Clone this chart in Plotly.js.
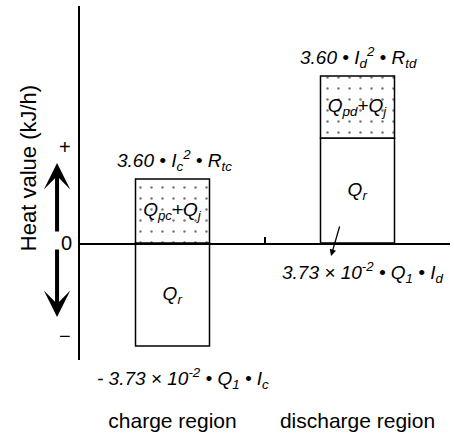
<!DOCTYPE html>
<html>
<head>
<meta charset="utf-8">
<script src="https://cdn.plot.ly/plotly-3.0.1.min.js"></script>
<style>
  html, body { margin: 0; padding: 0; background: #fff; }
  #chart { width: 454px; height: 438px; }
</style>
</head>
<body>
<div id="chart"></div>
<script>
// Heat balance of the battery in the charge and discharge regions (schematic units)
const regions = ['charge region', 'discharge region'];
const reactionHeat = [-10.3, 10.5];      // Q_r  (endothermic on charge, exothermic on discharge)
const jouleHeat = [6.4, 6.2];            // Q_p + Q_j
const reactionLabels = ['<i>Q<sub>r</sub></i>', '<i>Q<sub>r</sub></i>'];
const jouleLabels = ['<i>Q<sub>pc</sub>+Q<sub>j</sub></i>', '<i>Q<sub>pd</sub>+Q<sub>j</sub></i>'];
const jouleFormulas = [
  '<i>3.60 • I<sub>c</sub><sup>2</sup> • R<sub>tc</sub></i>',
  '<i>3.60 • I<sub>d</sub><sup>2</sup> • R<sub>td</sub></i>'
];
const reactionFormulas = [
  '<i>- 3.73 × 10<sup>-2</sup> • Q<sub>1</sub> • I<sub>c</sub></i>',
  '<i>3.73 × 10<sup>-2</sup> • Q<sub>1</sub> • I<sub>d</sub></i>'
];

const FONT = 'Liberation Sans, Arial, Helvetica, sans-serif';
const yMin = -11.7, yMax = 23.7;

const traces = [
  {
    type: 'bar', x: regions, y: reactionHeat, width: 0.4,
    text: reactionLabels, textposition: 'inside', insidetextanchor: 'middle',
    textfont: {family: FONT, size: 19, color: '#000'},
    marker: {color: '#fff', line: {color: '#000', width: 1.5}},
    hoverinfo: 'skip'
  },
  {
    type: 'bar', x: regions, y: jouleHeat, width: 0.4,
    text: jouleLabels, textposition: 'inside', insidetextanchor: 'middle',
    textfont: {family: FONT, size: 19, color: '#000'},
    marker: {
      color: '#fff',
      line: {color: '#000', width: 1.5},
      pattern: {shape: '.', fgcolor: '#777', bgcolor: '#fff', size: 11, solidity: 0.04}
    },
    hoverinfo: 'skip'
  }
];

const tops = regions.map((_, i) => Math.max(0, reactionHeat[i]) + jouleHeat[i]);
const bottoms = regions.map((_, i) => Math.min(0, reactionHeat[i]));

const txt = (size) => ({family: FONT, size: size, color: '#000'});

const annotations = [
  // formulas above the Joule-heat blocks
  {x: 0, y: tops[0], xref: 'x', yref: 'y', text: jouleFormulas[0], showarrow: false,
   yanchor: 'bottom', yshift: 3, xshift: 2, font: txt(19)},
  {x: 1, y: tops[1], xref: 'x', yref: 'y', text: jouleFormulas[1], showarrow: false,
   yanchor: 'bottom', yshift: 3, xshift: 1, font: txt(19)},
  // reaction-heat formulas
  {x: 0, y: bottoms[0], xref: 'x', yref: 'y', text: reactionFormulas[0], showarrow: false,
   yanchor: 'top', yshift: -17, xshift: 10, font: txt(19)},
  {x: 1, y: 0, xref: 'x', yref: 'y', text: reactionFormulas[1], showarrow: false,
   yanchor: 'top', yshift: -14, xshift: 5, font: txt(19)},
  // pointer from the discharge block to its formula
  {x: 0.857, y: -1.3, xref: 'x', yref: 'y', text: '', showarrow: true,
   ax: 9, ay: -31, arrowhead: 2, arrowsize: 1, arrowwidth: 1.3, arrowcolor: '#000', standoff: 0},
  // axis title
  {x: -0.1405, y: 0.542, xref: 'paper', yref: 'paper', text: 'Heat value (kJ/h)', textangle: -90,
   showarrow: false, xanchor: 'center', yanchor: 'middle', font: txt(22)},
  // sign arrows
  {x: -0.062, y: 9.6, xref: 'paper', yref: 'y', text: '+', showarrow: false, font: txt(20)},
  {x: -0.062, y: -9.3, xref: 'paper', yref: 'y', text: '−', showarrow: false, font: txt(20)},
  {x: -0.062, y: 8.0, xref: 'paper', yref: 'y', text: '', showarrow: true, ax: 0, ay: 70,
   arrowhead: 3, arrowsize: 1.1, arrowwidth: 4, arrowcolor: '#000', standoff: 0},
  {x: -0.062, y: -7.4, xref: 'paper', yref: 'y', text: '', showarrow: true, ax: 0, ay: -69,
   arrowhead: 3, arrowsize: 1.1, arrowwidth: 4, arrowcolor: '#000', standoff: 0}
];

const layout = {
  width: 454, height: 438,
  margin: {l: 80, r: 4, t: 6, b: 78},
  paper_bgcolor: '#fff', plot_bgcolor: '#fff',
  barmode: 'relative',
  showlegend: false,
  font: {family: FONT, color: '#000'},
  xaxis: {
    type: 'category', range: [-0.5, 1.5],
    anchor: 'free', position: (0 - yMin) / (yMax - yMin),
    showline: true, linecolor: '#000', linewidth: 1.5,
    ticks: 'inside', tickson: 'boundaries', ticklen: 6, tickwidth: 1.5, tickcolor: '#000',
    ticklabelstandoff: 158,
    tickfont: {family: FONT, size: 21, color: '#000'},
    showgrid: false, zeroline: false, fixedrange: true
  },
  yaxis: {
    range: [yMin, yMax],
    showline: true, linecolor: '#000', linewidth: 2,
    zeroline: false, showgrid: false,
    ticks: '', tickvals: [0], ticktext: ['0'],
    tickfont: {family: FONT, size: 20, color: '#000'},
    ticklabelstandoff: 2,
    fixedrange: true
  },
  annotations: annotations
};

Plotly.newPlot('chart', traces, layout, {displayModeBar: false, staticPlot: true});
</script>
</body>
</html>
